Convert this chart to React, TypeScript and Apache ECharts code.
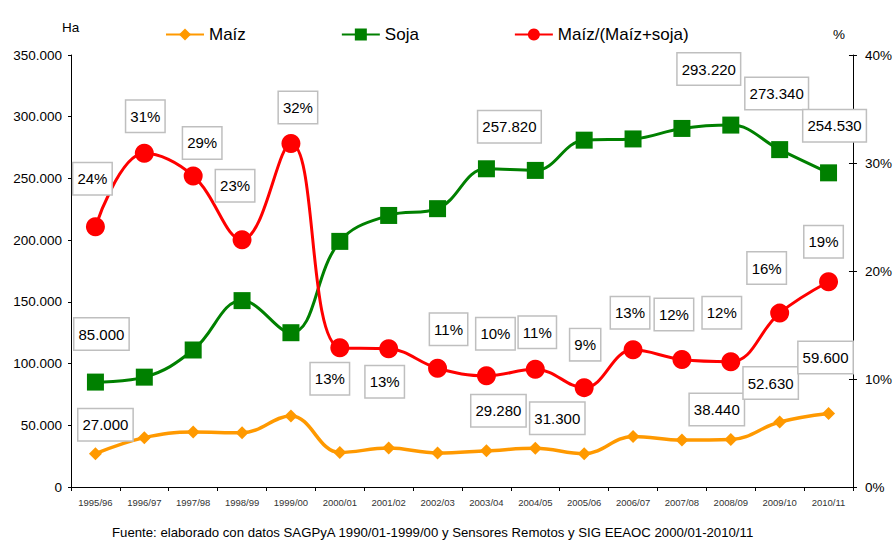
import React, { useEffect, useRef } from "react";
import * as echarts from "echarts";

const categories = [
  "1995/96", "1996/97", "1997/98", "1998/99", "1999/00", "2000/01", "2001/02", "2002/03",
  "2003/04", "2004/05", "2005/06", "2006/07", "2007/08", "2008/09", "2009/10", "2010/11",
];
const maiz = [27000, 40000, 44500, 44000, 57500, 28000, 31500, 27500, 29280, 31300, 27000, 41000, 38000, 38440, 52630, 59600];
const soja = [85000, 89000, 111000, 151000, 125000, 199000, 220000, 225500, 257820, 256500, 281000, 282000, 290500, 293220, 273340, 254530];
const ratio = [24.1, 30.9, 28.8, 22.9, 31.8, 12.9, 12.8, 11.0, 10.3, 10.9, 9.2, 12.7, 11.8, 11.6, 16.1, 19.0];
const leftTicks = { min: 0, max: 350000, interval: 50000 };
const rightTicks = { min: 0, max: 40, interval: 10 };

// label box offsets (px) relative to the marker, by category index
const maizLabelOffsets: Record<number, [number, number]> = {
  0: [10, -29], 8: [12, -40], 9: [22, -30], 13: [-14, -30], 14: [-9, -39], 15: [-3, -56],
};
const sojaLabelOffsets: Record<number, [number, number]> = {
  0: [6, -48], 8: [23, -42], 13: [-22, -56], 14: [-3, -56], 15: [6, -47],
};
const ratioLabelOffsets: [number, number][] = [
  [-3, -48], [1, -37], [9, -33], [-7, -54], [7, -36], [-10, 31], [-4, 33], [11, -39],
  [9, -42], [2, -37], [1, -43], [-3, -37], [-8, -45], [-9, -49], [-13, -45], [-5, -40],
];

const FONT = "'Liberation Sans', Arial, sans-serif";

const fmtThousands = (v: number) =>
  String(Math.round(v)).replace(/\B(?=(\d{3})+(?!\d))/g, ".");

const boxLabel = {
  position: "inside" as const,
  backgroundColor: "#ffffff",
  borderColor: "#bfbfbf",
  borderWidth: 1.5,
  padding: [8, 4, 8, 4],
  fontSize: 15,
  color: "#000",
  fontFamily: FONT,
};

function buildData(values: number[], offsets: Record<number, [number, number]>, fmt: (v: number) => string) {
  return values.map((v, i) => {
    const off = offsets[i];
    if (!off) return { value: v, label: { show: false } };
    return {
      value: v,
      label: { show: true, ...boxLabel, offset: off, formatter: () => fmt(v) },
    };
  });
}

export default function App() {
  const ref = useRef<HTMLDivElement>(null);
  useEffect(() => {
    if (!ref.current) return;
    const chart = echarts.init(ref.current, undefined, { renderer: "svg" });
    const ratioOffsets: Record<number, [number, number]> = {};
    ratioLabelOffsets.forEach((o, i) => (ratioOffsets[i] = o));
    chart.setOption({
      animation: false,
      backgroundColor: "#ffffff",
      textStyle: { fontFamily: FONT },
      grid: { left: 71, right: 42, top: 55, bottom: 54, containLabel: false },
      legend: {
        left: 160,
        top: 21,
        itemWidth: 38,
        itemHeight: 15,
        itemGap: 95,
        textStyle: { fontSize: 17, color: "#000", fontFamily: FONT },
        data: ["Maíz", "Soja", "Maíz/(Maíz+soja)"],
      },
      xAxis: {
        type: "category",
        data: categories,
        boundaryGap: true,
        axisLine: { lineStyle: { color: "#000", width: 1 } },
        axisTick: { show: true, length: 4, alignWithLabel: false, lineStyle: { color: "#000" } },
        axisLabel: { interval: 0, fontSize: 9.5, color: "#333", margin: 10, fontFamily: FONT },
        splitLine: { show: false },
      },
      yAxis: [
        {
          type: "value",
          ...leftTicks,
          position: "left",
          axisLine: { show: true, lineStyle: { color: "#000", width: 1 } },
          axisTick: { show: true, length: 3, lineStyle: { color: "#000" } },
          axisLabel: { fontSize: 13.5, color: "#000", margin: 9, formatter: (v: number) => fmtThousands(v), fontFamily: FONT },
          splitLine: { show: false },
        },
        {
          type: "value",
          ...rightTicks,
          position: "right",
          axisLine: { show: true, lineStyle: { color: "#000", width: 1 } },
          axisTick: { show: true, length: 4, lineStyle: { color: "#000" } },
          axisLabel: { fontSize: 13.5, color: "#000", margin: 12, formatter: "{value}%", fontFamily: FONT },
          splitLine: { show: false },
        },
        {
          type: "value",
          ...rightTicks,
          position: "right",
          offset: 0,
          axisLine: { show: false },
          axisTick: { show: true, inside: true, length: 4, lineStyle: { color: "#000" } },
          axisLabel: { show: false },
          splitLine: { show: false },
        },
      ],
      series: [
        {
          name: "Maíz",
          type: "line",
          yAxisIndex: 0,
          smooth: 0.4,
          symbol: "diamond",
          symbolSize: 13,
          lineStyle: { color: "#FF9900", width: 3.5 },
          itemStyle: { color: "#FF9900" },
          emphasis: { disabled: true },
          data: buildData(maiz, maizLabelOffsets, fmtThousands),
          z: 2,
        },
        {
          name: "Soja",
          type: "line",
          yAxisIndex: 0,
          smooth: 0.4,
          symbol: "rect",
          symbolSize: 17,
          lineStyle: { color: "#008000", width: 3 },
          itemStyle: { color: "#008000" },
          emphasis: { disabled: true },
          data: buildData(soja, sojaLabelOffsets, fmtThousands),
          z: 3,
        },
        {
          name: "Maíz/(Maíz+soja)",
          type: "line",
          yAxisIndex: 1,
          smooth: 0.4,
          symbol: "circle",
          symbolSize: 19,
          lineStyle: { color: "#FF0000", width: 3 },
          itemStyle: { color: "#FF0000" },
          emphasis: { disabled: true },
          data: buildData(ratio, ratioOffsets, (v) => `${Math.round(v)}%`),
          z: 4,
        },
      ],
      graphic: [
        {
          type: "text",
          left: 62,
          top: 20,
          style: { text: "Ha", fontSize: 13.5, fill: "#000", fontFamily: FONT },
        },
        {
          type: "text",
          left: 833,
          top: 27,
          style: { text: "%", fontSize: 13.5, fill: "#000", fontFamily: FONT },
        },
        {
          type: "text",
          left: 112,
          top: 526,
          style: {
            text: "Fuente: elaborado con datos SAGPyA 1990/01-1999/00 y Sensores Remotos y SIG EEAOC 2000/01-2010/11",
            fontSize: 13.2,
            fill: "#000",
            fontFamily: FONT,
          },
        },
      ],
    });
    return () => chart.dispose();
  }, []);
  return <div ref={ref} style={{ width: 895, height: 541, position: "absolute", left: 0, top: 0 }} />;
}
